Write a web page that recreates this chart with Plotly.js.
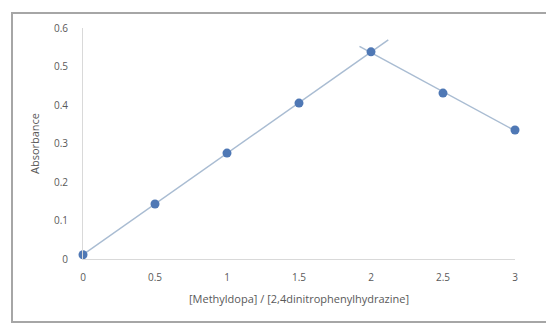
<!DOCTYPE html>
<html><head><meta charset="utf-8">
<script src="https://cdn.plot.ly/plotly-3.0.1.min.js"></script>
<style>
html,body{margin:0;padding:0;background:#fff;overflow:hidden;}
#frame{position:absolute;left:11px;top:12px;width:600px;height:311px;border:2px solid #a6a6a6;box-sizing:border-box;}
#chart{position:absolute;left:0;top:0;width:546px;height:326px;}
</style></head>
<body>
<div id="frame"></div>
<div id="chart"></div>
<script>
const ratio = [0, 0.5, 1, 1.5, 2, 2.5, 3];
const absorbance = [0.011, 0.143, 0.275, 0.405, 0.538, 0.431, 0.335];
const xTicks = [0, 0.5, 1, 1.5, 2, 2.5, 3];
const yTicks = [0, 0.1, 0.2, 0.3, 0.4, 0.5, 0.6];

function fit(xs, ys){
  const n = xs.length;
  const mx = xs.reduce((a,b)=>a+b,0)/n, my = ys.reduce((a,b)=>a+b,0)/n;
  let sxy=0, sxx=0;
  for(let i=0;i<n;i++){sxy+=(xs[i]-mx)*(ys[i]-my); sxx+=(xs[i]-mx)**2;}
  const m = sxy/sxx; return {m, b: my - m*mx};
}
const up = fit(ratio.slice(0,5), absorbance.slice(0,5));
const down = fit(ratio.slice(4), absorbance.slice(4));
const upX = [ratio[0], ratio[4] + 0.12];
const downX = [ratio[4] - 0.08, ratio[6]];

const lineStyle = {color:'#a9bcd2', width:1.5};
const traces = [
  {x: upX, y: upX.map(v=>up.m*v+up.b), mode:'lines', line:lineStyle, hoverinfo:'skip'},
  {x: downX, y: downX.map(v=>down.m*v+down.b), mode:'lines', line:lineStyle, hoverinfo:'skip'},
  {x: ratio, y: absorbance, mode:'markers', marker:{color:'#4f78b5', size:9}, cliponaxis:false}
];
const font = {family:'Open Sans, Liberation Sans, sans-serif', size:10, color:'#595959'};
const layout = {
  width:546, height:326,
  margin:{l:83, r:31, t:28, b:67},
  paper_bgcolor:'rgba(0,0,0,0)', plot_bgcolor:'rgba(0,0,0,0)',
  showlegend:false, font,
  xaxis:{range:[0,3], tickvals:xTicks, ticktext:xTicks.map(String), showgrid:false, zeroline:false,
    showline:true, linecolor:'#d9d9d9', linewidth:1, ticks:'', ticklen:0, tickfont:font, ticklabelstandoff:9,
    title:{text:'[Methyldopa] / [2,4dinitrophenylhydrazine]', font:{...font, size:11}, standoff:12}},
  yaxis:{range:[0,0.6], tickvals:yTicks, ticktext:yTicks.map(String), showgrid:false, zeroline:false,
    showline:true, linecolor:'#d9d9d9', linewidth:1, ticks:'', tickfont:font, ticklabelstandoff:12,
    title:{text:'Absorbance', font:{...font, size:11}, standoff:12}}
};
Plotly.newPlot('chart', traces, layout, {staticPlot:true, displayModeBar:false});
</script>
</body></html>
